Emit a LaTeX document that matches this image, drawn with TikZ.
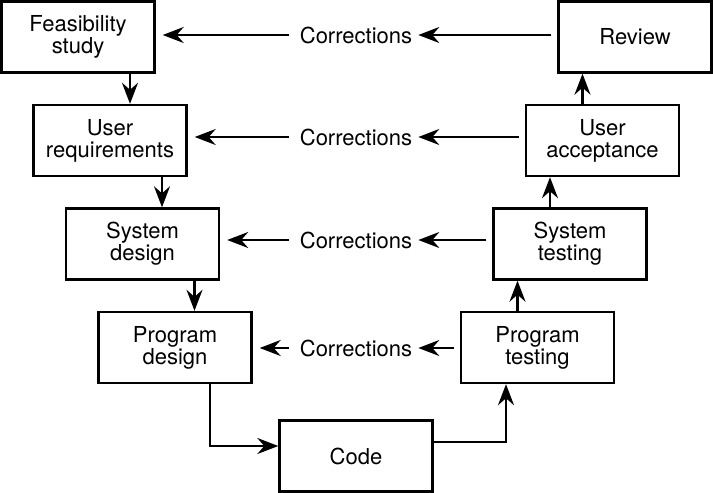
\documentclass[tikz,border=0pt]{standalone}
\usepackage{fontspec}
\setmainfont{TeX Gyre Heros}
\usetikzlibrary{arrows.meta}

\begin{document}
\begin{tikzpicture}[
    x=1pt,y=-1pt,
    every node/.style={font=\fontsize{22}{22}\selectfont,inner sep=0pt},
    stagebox/.style={draw,line width=2.4pt,minimum width=153pt,minimum height=71pt,align=center},
    stealtharrow/.style={-{Stealth[length=21pt,width=16pt,inset=7pt]},line width=2.2pt}
]
    % picture is 713 x 493, y grows downwards
    \useasboundingbox (0,0) rectangle (713,493);

    % left leg of the V
    \node[stagebox] (feas)  at (78,37)     {Feasibility\\study};
    \node[stagebox] (ureq)  at (110,140.5) {User\\requirements};
    \node[stagebox] (sysd)  at (142.5,244) {System\\design};
    \node[stagebox] (progd) at (175,347.5) {Program\\design};

    % bottom
    \node[stagebox] (code)  at (356,456)   {Code};

    % right leg of the V
    \node[stagebox] (progt)  at (537.5,347.5) {Program\\testing};
    \node[stagebox] (syst)   at (570,244)     {System\\testing};
    \node[stagebox] (uacc)   at (602.5,140.5) {User\\acceptance};
    \node[stagebox] (review) at (635,37)      {Review};

    % feedback from the right leg to the left leg
    \foreach \i/\y/\L/\R in {
        1/35/feas/review,
        2/137/ureq/uacc,
        3/240/sysd/syst,
        4/348/progd/progt}{
        \node (corr\i) at (356,\y) {Corrections};
        \draw[stealtharrow,shorten <=11pt,shorten >=7pt] (corr\i.west) -- (corr\i.west -| \L.east);
        \draw[stealtharrow,shorten <=6pt,shorten >=6pt] (corr\i.east -| \R.west) -- (corr\i.east);
    }

    % going down
    \draw[stealtharrow] ([xshift=52]feas.south) -- ([xshift=52]feas.south |- ureq.north);
    \draw[stealtharrow] ([xshift=52]ureq.south) -- ([xshift=52]ureq.south |- sysd.north);
    \draw[stealtharrow] ([xshift=52]sysd.south) -- ([xshift=52]sysd.south |- progd.north);
    \draw[stealtharrow] ([xshift=35]progd.south) |- ([yshift=10]code.west);

    % going up
    \draw[stealtharrow] ([yshift=14]code.east) -| ([xshift=-31.5]progt.south);
    \draw[stealtharrow] ([xshift=-20]progt.north) -- ([xshift=-20]progt.north |- syst.south);
    \draw[stealtharrow] ([xshift=-20]syst.north) -- ([xshift=-20]syst.north |- uacc.south);
    \draw[stealtharrow] ([xshift=-20]uacc.north) -- ([xshift=-20]uacc.north |- review.south);

\end{tikzpicture}
\end{document}
